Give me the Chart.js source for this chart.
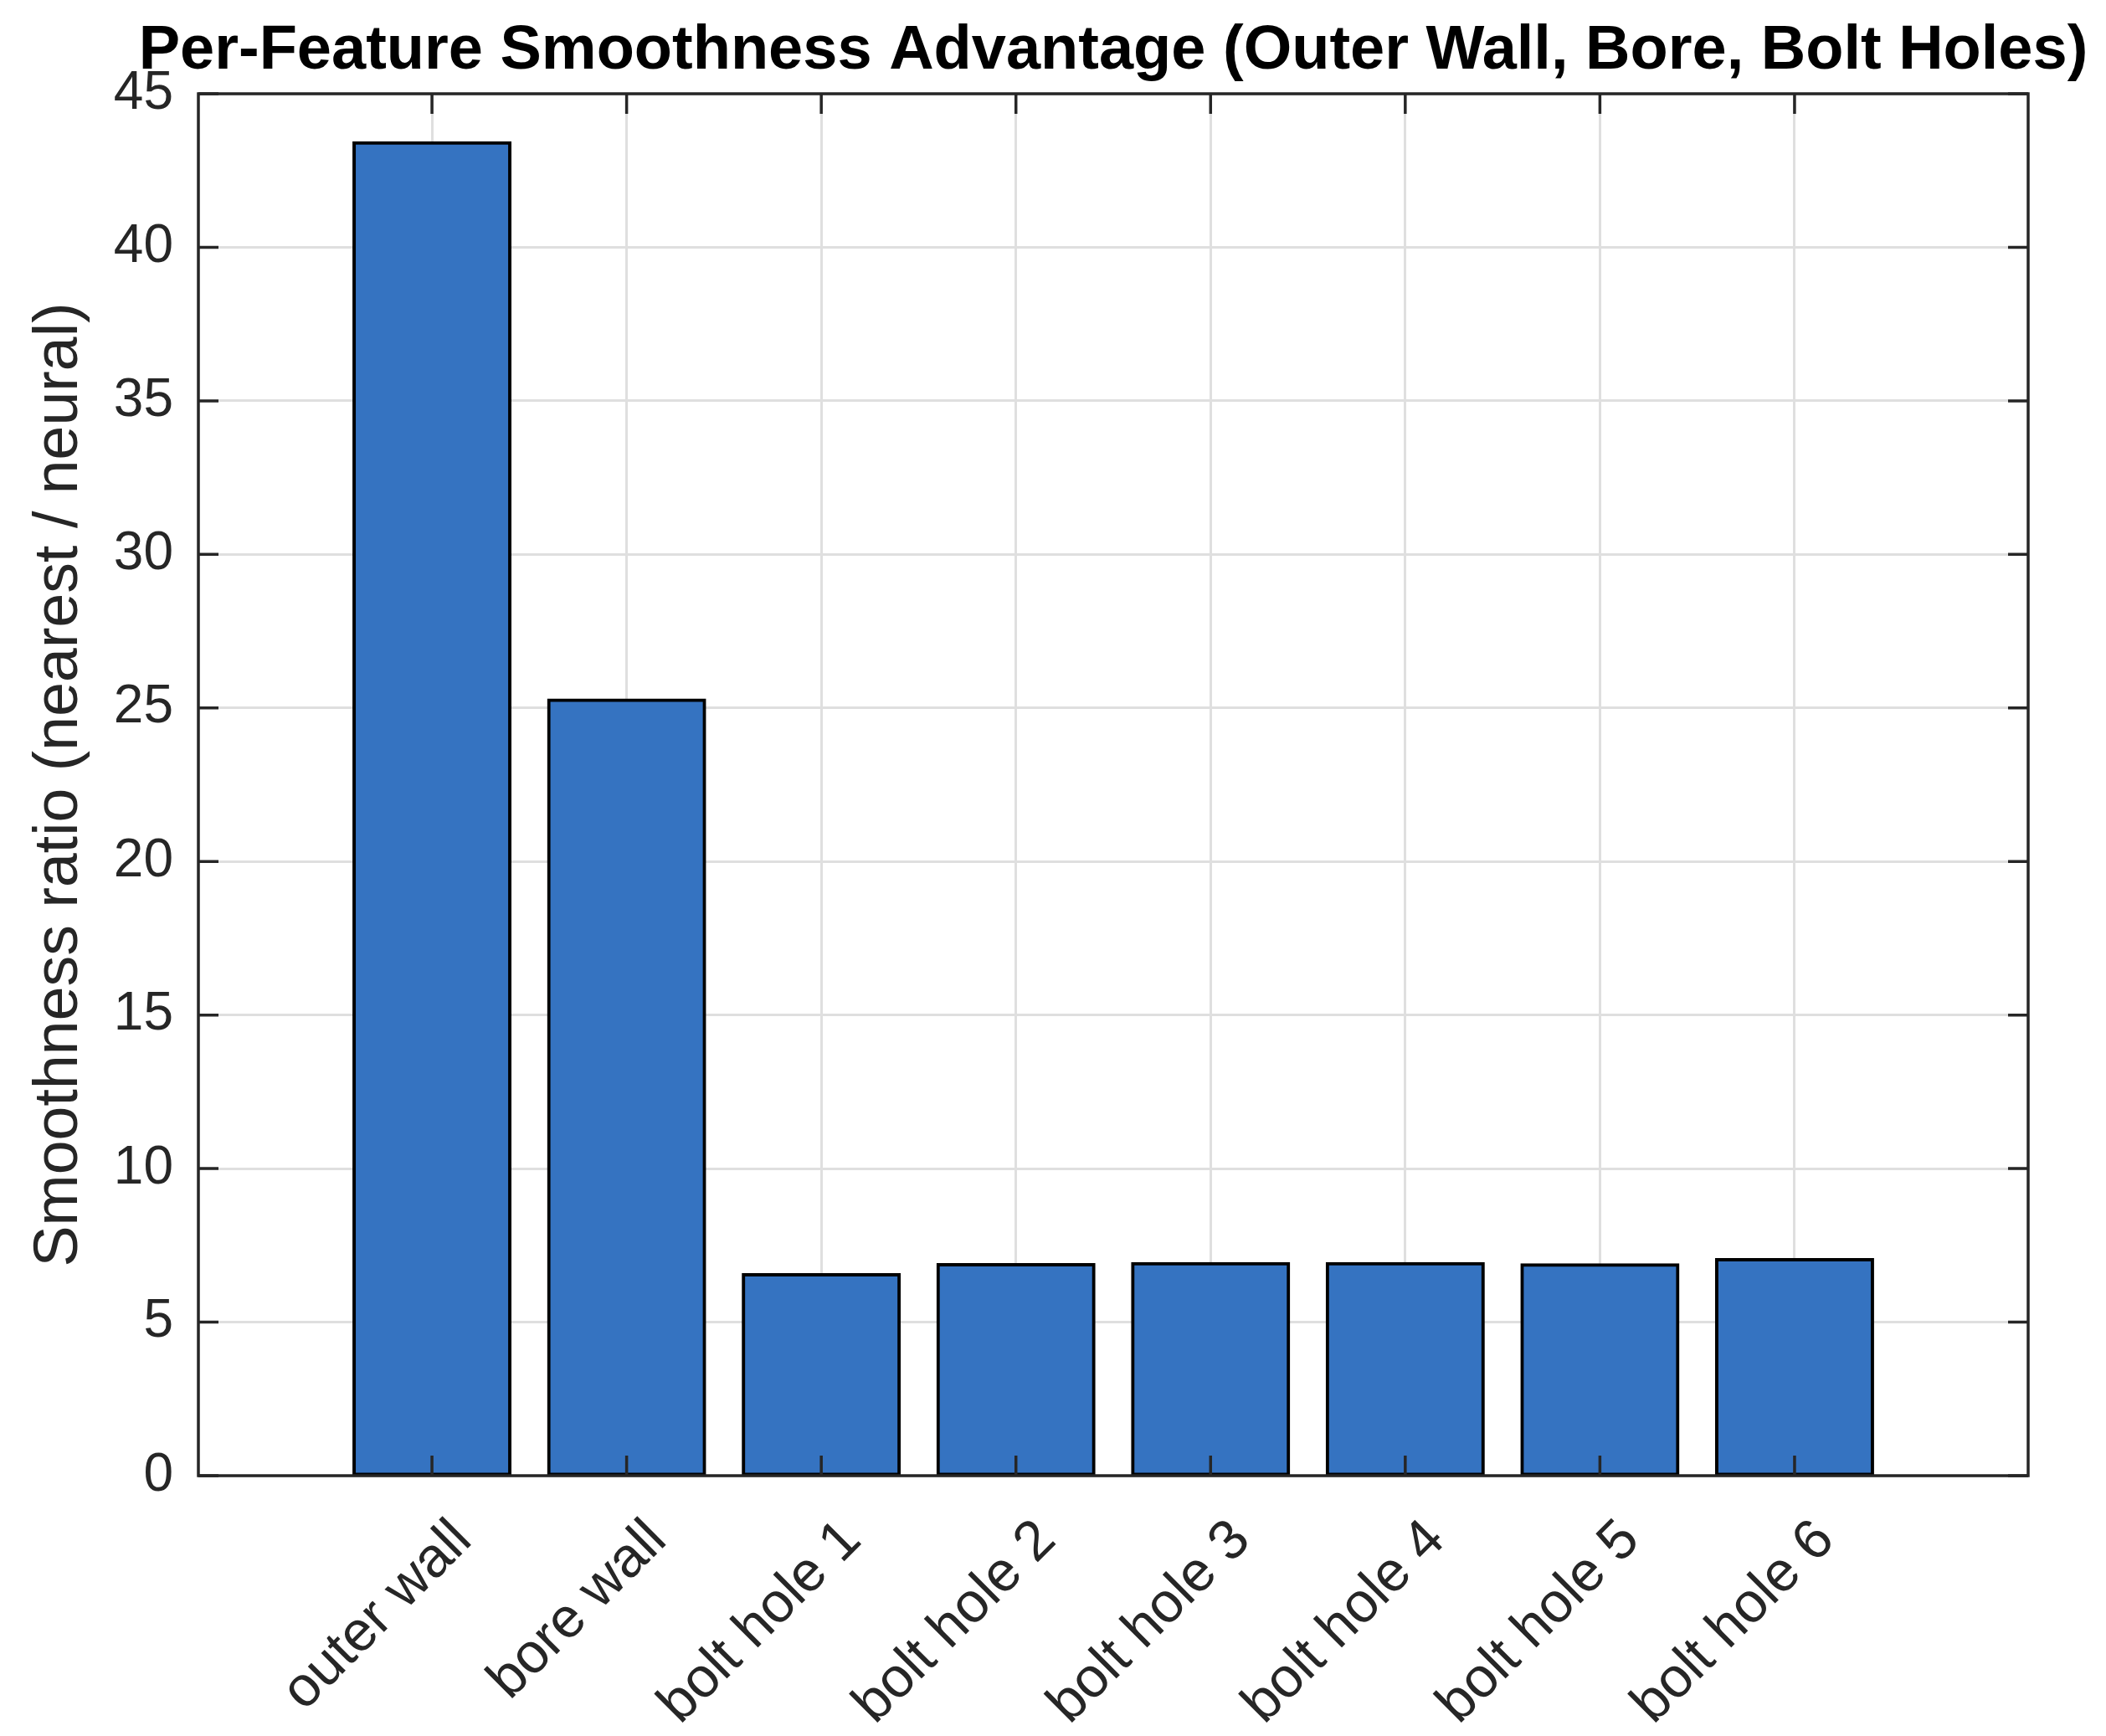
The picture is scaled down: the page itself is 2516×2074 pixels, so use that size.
<!DOCTYPE html>
<html>
<head>
<meta charset="utf-8">
<title>Per-Feature Smoothness Advantage</title>
<script src="https://cdn.jsdelivr.net/npm/chart.js@4.4.1/dist/chart.umd.min.js"></script>
<style>
    html, body { margin: 0; padding: 0; background: #fff; }
    #wrap { width: 2516px; height: 2074px; position: relative; }
</style>
</head>
<body>
<div id="wrap"><canvas id="smoothChart"></canvas></div>
<script>
// Chart data
const categories = ['outer wall', 'bore wall', 'bolt hole 1', 'bolt hole 2', 'bolt hole 3', 'bolt hole 4', 'bolt hole 5', 'bolt hole 6'];
const positions = [1, 2, 3, 4, 5, 6, 7, 8];
const ratios = [43.40, 25.25, 6.54, 6.87, 6.90, 6.90, 6.86, 7.03];
const xLimits = [-0.2, 9.2];
const yLimits = [0, 45];
const yStep = 5;

const titleText = 'Per-Feature Smoothness Advantage (Outer Wall, Bore, Bolt Holes)';
const yLabel = 'Smoothness ratio (nearest / neural)';

const FONT = "'Liberation Sans', Helvetica, Arial, sans-serif";
const AXIS_COLOR = '#262626';
const TICK_LEN = 24;

// MATLAB-like box with inward ticks on all four sides
const axesBox = {
    id: 'axesBox',
    afterDatasetsDraw(chart) {
        const { ctx, chartArea: a, scales } = chart;
        const x = scales.x, y = scales.y;
        ctx.save();
        ctx.strokeStyle = AXIS_COLOR;
        ctx.lineWidth = 3.5;
        ctx.beginPath();
        y.ticks.forEach(function(t) {
            const py = y.getPixelForValue(t.value);
            ctx.moveTo(a.left, py);
            ctx.lineTo(a.left + TICK_LEN, py);
            ctx.moveTo(a.right, py);
            ctx.lineTo(a.right - TICK_LEN, py);
        });
        x.ticks.forEach(function(t) {
            const px = x.getPixelForValue(t.value);
            ctx.moveTo(px, a.bottom);
            ctx.lineTo(px, a.bottom - TICK_LEN);
            ctx.moveTo(px, a.top);
            ctx.lineTo(px, a.top + TICK_LEN);
        });
        ctx.stroke();
        ctx.strokeRect(a.left, a.top, a.right - a.left, a.bottom - a.top);
        ctx.restore();
    }
};

// Title centred over the plot area, like MATLAB does it
const axesTitle = {
    id: 'axesTitle',
    afterDraw(chart) {
        const { ctx, chartArea: a } = chart;
        ctx.save();
        ctx.fillStyle = '#000';
        ctx.font = 'bold 74px ' + FONT;
        ctx.textAlign = 'center';
        ctx.textBaseline = 'alphabetic';
        ctx.fillText(titleText, (a.left + a.right) / 2, a.top - 30);
        ctx.restore();
    }
};

document.addEventListener('DOMContentLoaded', function() {
    const ctx = document.getElementById('smoothChart').getContext('2d');

    new Chart(ctx, {
        type: 'bar',
        data: {
            datasets: [{
                label: 'Smoothness ratio',
                data: ratios.map((v, i) => ({ x: positions[i], y: v })),
                backgroundColor: '#3573c1',
                borderColor: '#000000',
                borderWidth: 4,
                borderSkipped: false,
                inflateAmount: 2, // edge centred on the bar outline
                barPercentage: 0.8,
                categoryPercentage: 1.0
            }]
        },
        options: {
            responsive: true,
            maintainAspectRatio: false,
            devicePixelRatio: 1,
            animation: false,
            layout: {
                padding: { top: 112, right: 93, left: 0, bottom: 0 }
            },
            plugins: {
                legend: { display: false },
                tooltip: { enabled: false },
                title: { display: false }
            },
            scales: {
                x: {
                    type: 'linear',
                    min: xLimits[0],
                    max: xLimits[1],
                    offset: false,
                    afterBuildTicks: function(scale) {
                        scale.ticks = positions.map(v => ({ value: v }));
                    },
                    afterFit: function(scale) {
                        scale.height = 311;
                    },
                    ticks: {
                        autoSkip: false,
                        minRotation: 45,
                        maxRotation: 45,
                        padding: 38,
                        labelOffset: 37,
                        color: AXIS_COLOR,
                        font: { family: FONT, size: 67 },
                        callback: function(value) {
                            return categories[positions.indexOf(value)];
                        }
                    },
                    grid: {
                        offset: false,
                        color: '#dfdfdf',
                        lineWidth: 3,
                        drawTicks: false
                    },
                    border: { display: false }
                },
                y: {
                    min: yLimits[0],
                    max: yLimits[1],
                    afterFit: function(scale) {
                        scale.width = 237;
                    },
                    ticks: {
                        stepSize: yStep,
                        padding: 30,
                        color: AXIS_COLOR,
                        font: { family: FONT, size: 64 }
                    },
                    grid: {
                        color: '#dfdfdf',
                        lineWidth: 3,
                        drawTicks: false
                    },
                    border: { display: false },
                    title: {
                        display: true,
                        text: yLabel,
                        color: AXIS_COLOR,
                        font: { family: FONT, size: 73.5 },
                        padding: { top: 28, bottom: 0 }
                    }
                }
            }
        },
        plugins: [axesBox, axesTitle]
    });
});
</script>
</body>
</html>
